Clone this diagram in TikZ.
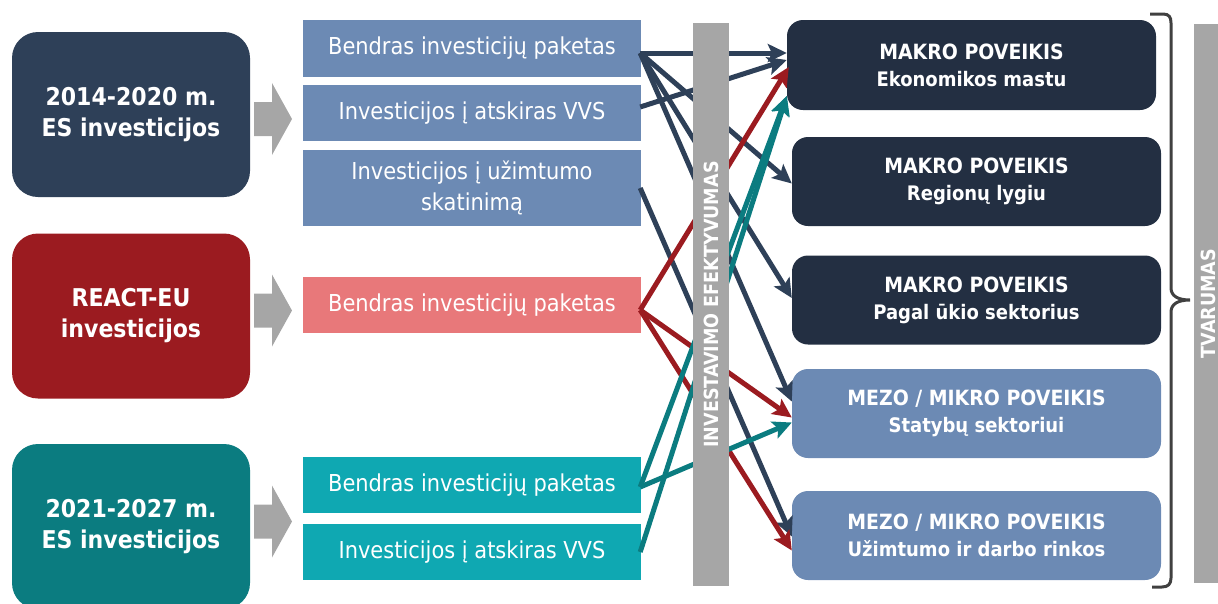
\documentclass[tikz,border=0pt]{standalone}
\usepackage{fontspec}
\setmainfont{DejaVu Sans Condensed}
\usetikzlibrary{arrows.meta,calc}
\definecolor{navyL}{RGB}{46,64,88}
\definecolor{navyR}{RGB}{35,47,66}
\definecolor{steel}{RGB}{108,138,180}
\definecolor{redD}{RGB}{155,27,32}
\definecolor{pinkL}{RGB}{232,120,122}
\definecolor{tealD}{RGB}{11,124,128}
\definecolor{tealL}{RGB}{15,168,178}
\definecolor{barg}{RGB}{166,166,166}
\definecolor{braceg}{RGB}{64,64,64}
\begin{document}
\begin{tikzpicture}[x=1pt,y=-1pt]
\tikzset{
 lbox/.style={rounded corners=26pt, minimum width=238pt, minimum height=165pt, inner sep=0pt, text=white, align=center, font=\bfseries\fontsize{24.5}{31}\selectfont},
 mbox/.style={minimum width=338pt, inner sep=0pt, text=white, align=center, font=\fontsize{23.3}{31}\selectfont},
 rbox/.style={rounded corners=16pt, minimum width=369pt, minimum height=89pt, inner sep=0pt, text=white, align=center, font=\bfseries\fontsize{21}{27}\selectfont},
 vbar/.style={fill=barg, inner sep=0pt, text=white, font=\bfseries\fontsize{19.5}{20}\selectfont, rotate=90},
 conn/.style={line width=5pt, -{Stealth[length=19pt,width=18pt,inset=4pt]}},
}
\newcommand{\sub}[1]{{\fontsize{20}{27}\selectfont #1}}
\useasboundingbox (0,0) rectangle (1218,603);
% left boxes
\node[lbox, fill=navyL] (L1) at (131,114.5) {2014-2020 m.\\ES investicijos};
\node[lbox, fill=redD] (L2) at (131,316) {REACT-EU\\investicijos};
\node[lbox, fill=tealD] (L3) at (131,526.5) {2021-2027 m.\\ES investicijos};
% gray block arrows
\foreach \c in {119,310.5,521.5}{
 \fill[barg] (254,{\c-17}) -- (272,{\c-17}) -- (272,{\c-36}) -- (292,\c) -- (272,{\c+36}) -- (272,{\c+17}) -- (254,{\c+17}) -- cycle;
}
% middle boxes
\node[mbox, fill=steel, minimum height=57pt] (B1) at (472,48.5) {Bendras investicijų paketas};
\node[mbox, fill=steel, minimum height=56pt] (B2) at (472,113) {Investicijos į atskiras VVS};
\node[mbox, fill=steel, minimum height=76pt] (B3) at (472,188) {Investicijos į užimtumo\\skatinimą};
\node[mbox, fill=pinkL, minimum height=56pt] (B4) at (472,305) {Bendras investicijų paketas};
\node[mbox, fill=tealL, minimum height=56pt] (B5) at (472,485) {Bendras investicijų paketas};
\node[mbox, fill=tealL, minimum height=56pt] (B6) at (472,552) {Investicijos į atskiras VVS};
% right boxes
\node[rbox, fill=navyR, minimum height=90pt] (R1) at (971.5,65) {MAKRO POVEIKIS\\\sub{Ekonomikos mastu}};
\node[rbox, fill=navyR] (R2) at (976.5,181.5) {MAKRO POVEIKIS\\\sub{Regionų lygiu}};
\node[rbox, fill=navyR] (R3) at (976.5,300) {MAKRO POVEIKIS\\\sub{Pagal ūkio sektorius}};
\node[rbox, fill=steel] (R4) at (976.5,413.5) {MEZO / MIKRO POVEIKIS\\\sub{Statybų sektoriui}};
\node[rbox, fill=steel] (R5) at (976.5,535.5) {MEZO / MIKRO POVEIKIS\\\sub{Užimtumo ir darbo rinkos}};
% start and end points
\coordinate (s1) at ($(B1.east)+(-1,4.5)$);
\coordinate (s2) at ($(B2.east)+(-1,-6)$);
\coordinate (s3) at ($(B3.east)+(-1,0)$);
\coordinate (p) at ($(B4.east)+(-1,5)$);
\coordinate (t1) at ($(B5.east)+(-1,2)$);
\coordinate (t2) at ($(B6.east)+(-1,0)$);
\coordinate (r1a) at ($(R1.west)+(0,-12)$);
\coordinate (r1b) at ($(R1.west)+(0,-5)$);
\coordinate (r1c) at ($(R1.west)+(2,2)$);
\coordinate (r1d) at ($(R1.west)+(0,31)$);
\coordinate (r2) at ($(R2.west)+(0,2)$);
\coordinate (r3) at ($(R3.west)+(0,-2)$);
\coordinate (r4a) at ($(R4.west)+(0,-12)$);
\coordinate (r4b) at ($(R4.west)+(0,4)$);
\coordinate (r4c) at ($(R4.west)+(0,9)$);
\coordinate (r5a) at ($(R5.west)+(0,1)$);
\coordinate (r5b) at ($(R5.west)+(0,15)$);
% connectors
\draw[conn, navyL] (s1) -- (r1a);
\draw[conn, navyL] (s2) -- (r1b);
\draw[conn, navyL] (s1) -- (r2);
\draw[conn, navyL] (s1) -- (r3);
\draw[conn, navyL] (s1) -- (r4a);
\draw[conn, navyL] (s3) -- (r5a);
\draw[conn, redD] (p) -- (r1c);
\draw[conn, redD] (p) -- (r4b);
\draw[conn, redD] (p) -- (r5b);
\draw[conn, tealD] (t1) -- (r1d);
\draw[conn, tealD] (t2) -- (r1d);
\draw[conn, tealD] (t1) -- (r4c);
% bars
\node[vbar, minimum width=563pt, minimum height=36pt] (E) at (711,304.5) {INVESTAVIMO EFEKTYVUMAS};
\node[vbar, minimum width=559pt, minimum height=28pt] (T) at (1208,303.5) {TVARUMAS};
% brace
\draw[braceg, line width=3pt] (1150,14) -- (1163,14) .. controls (1169,14) and (1171,17) .. (1171,23) -- (1171,288) .. controls (1171,296) and (1178,300) .. (1190,300) .. controls (1178,300) and (1171,304) .. (1171,312) -- (1171,578) .. controls (1171,584) and (1168,587) .. (1162,587) -- (1152,587);
\end{tikzpicture}
\end{document}
